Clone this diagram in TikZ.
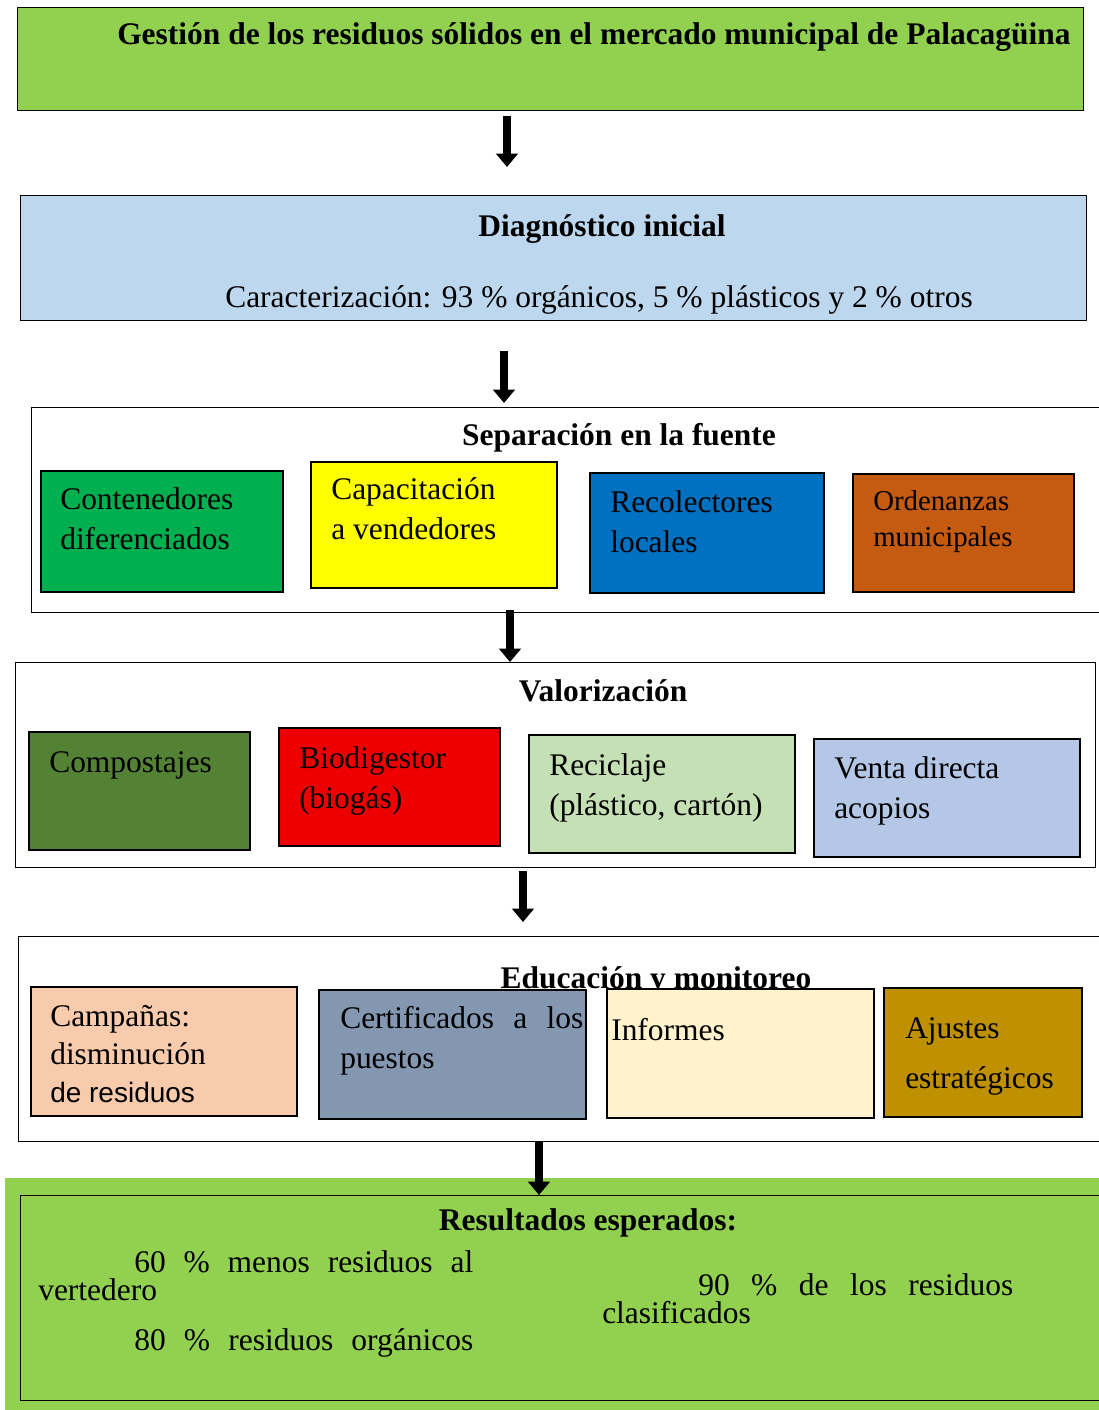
\documentclass[tikz,border=0pt]{standalone}
\usepackage{fontspec}
\setmainfont{Liberation Serif}
\newfontfamily\arialfont{Liberation Sans}
\usetikzlibrary{arrows.meta}

\definecolor{verdeT}{HTML}{92D050}
\definecolor{azulD}{HTML}{BDD7EE}
\definecolor{verdeC}{HTML}{00B050}
\definecolor{amarC}{HTML}{FFFF00}
\definecolor{azulR}{HTML}{0070C0}
\definecolor{naranO}{HTML}{C55A11}
\definecolor{verdeO}{HTML}{548235}
\definecolor{rojoB}{HTML}{EE0000}
\definecolor{verdeR}{HTML}{C5E0B4}
\definecolor{azulV}{HTML}{B4C7E7}
\definecolor{rosaC}{HTML}{F8CBAD}
\definecolor{grisC}{HTML}{8497B0}
\definecolor{cremaI}{HTML}{FFF2CC}
\definecolor{oroA}{HTML}{BF9000}

\tikzset{
  caja/.style={draw=black, line width=1.1pt, anchor=north west, inner sep=0pt},
  celda/.style={draw=black, line width=1.3pt, anchor=north west, inner sep=0pt},
  texto/.style={anchor=base west, inner sep=0pt, align=left, font=\fontsize{23.6}{30}\selectfont},
  titulo/.style={anchor=base, inner sep=0pt, font=\fontsize{23.6}{30}\selectfont\bfseries},
  flecha/.style={-{Triangle[width=16pt,length=10pt]}, line width=5.5pt}
}

\begin{document}
\begin{tikzpicture}[x=0.75pt, y=-0.75pt]
	\useasboundingbox (0,0) rectangle (1099,1410);

	\node[caja, fill=verdeT, minimum width=799.5pt, minimum height=77.25pt] (gestion) at (17,7) {};
	\node[titulo, anchor=base west] (gestionT) at (117,44) {Gestión de los residuos sólidos en el mercado municipal de Palacagüina};

	\node[caja, fill=azulD, minimum width=799.5pt, minimum height=93.75pt] (diag) at (20,195) {};
	\node[titulo] (diagT) at (602,236) {Diagnóstico inicial};
	\node[texto] (diagC) at (225,307) {Caracterización: 93 \% orgánicos, 5 \% plásticos y 2 \% otros};

	\node[caja, fill=white, minimum width=808.5pt, minimum height=153.75pt] (separ) at (31,407) {};
	\node[titulo] (separT) at (619,445) {Separación en la fuente};
	\node[celda, fill=verdeC, minimum width=181.5pt, minimum height=90.75pt] (conten) at (40,470) {};
	\node[texto] (contenT) at (60,549) {Contenedores\\diferenciados};
	\node[celda, fill=amarC, minimum width=184.5pt, minimum height=94.5pt] (capac) at (310,461) {};
	\node[texto] (capacT) at (331,539) {Capacitación\\a vendedores};
	\node[celda, fill=azulR, minimum width=175.5pt, minimum height=90pt] (recol) at (589,472) {};
	\node[texto] (recolT) at (610,552) {Recolectores\\locales};
	\node[celda, fill=naranO, minimum width=165.75pt, minimum height=88.5pt] (orden) at (852,473) {};
	\node[texto, font=\fontsize{21.6}{27}\selectfont] (ordenT) at (873,546) {Ordenanzas\\municipales};

	\node[caja, fill=white, minimum width=810pt, minimum height=153.75pt] (valor) at (15,662) {};
	\node[titulo] (valorT) at (603,701) {Valorización};
	\node[celda, fill=verdeO, minimum width=165.75pt, minimum height=88.5pt] (compost) at (28,731) {};
	\node[texto] (compostT) at (49,772) {Compostajes};
	\node[celda, fill=rojoB, minimum width=165.75pt, minimum height=88.5pt] (biodig) at (278,727) {};
	\node[texto] (biodigT) at (299,808) {Biodigestor\\(biogás)};
	\node[celda, fill=verdeR, minimum width=199.5pt, minimum height=88.5pt] (recic) at (528,734) {};
	\node[texto] (recicT) at (549,815) {Reciclaje\\(plástico, cartón)};
	\node[celda, fill=azulV, minimum width=199.5pt, minimum height=88.5pt] (venta) at (813,738) {};
	\node[texto] (ventaT) at (834,818) {Venta directa\\acopios};

	\node[caja, fill=white, minimum width=815.25pt, minimum height=153.75pt] (educ) at (18,936) {};
	\node[titulo] (educT) at (656,988) {Educación y monitoreo};
	\node[celda, fill=rosaC, minimum width=199.5pt, minimum height=96.75pt] (campa) at (30,986) {};
	\node[texto, font=\fontsize{23.6}{28.5}\selectfont] (campaT) at (50,1102) {Campañas:\\disminución\\{\arialfont\fontsize{21}{28}\selectfont de residuos}};
	\node[celda, fill=grisC, minimum width=200.25pt, minimum height=96.75pt] (certif) at (318,989) {};
	\node[texto] (certifT) at (340,1068) {\makebox[182.25pt][s]{Certificados a los}\\puestos};
	\node[celda, fill=cremaI, minimum width=200.25pt, minimum height=96.75pt] (inform) at (606,988) {};
	\node[texto] (informT) at (611,1040) {Informes};
	\node[celda, fill=oroA, minimum width=148.5pt, minimum height=96.75pt] (ajust) at (883,987) {};
	\node[texto, font=\fontsize{23.6}{37.5}\selectfont] (ajustT) at (905,1088) {Ajustes\\estratégicos};

	\node[anchor=north west, inner sep=0pt, fill=verdeT, minimum width=825pt, minimum height=174pt] (fondo) at (5,1178) {};
	\node[caja, minimum width=813.75pt, minimum height=153.75pt] (result) at (20,1195) {};
	\node[titulo] (resultT) at (588,1230) {Resultados esperados:};
	\node[texto] (res60) at (134,1272) {\makebox[254.25pt][s]{60 \% menos residuos al}};
	\node[texto] (res60b) at (38,1300) {vertedero};
	\node[texto] (res80) at (134,1350) {\makebox[254.25pt][s]{80 \% residuos orgánicos}};
	\node[texto] (res90) at (698,1295) {\makebox[236.25pt][s]{90 \% de los residuos}};
	\node[texto] (res90b) at (602,1323) {clasificados};

	\coordinate (f1) at (507,0);
	\coordinate (f2) at (504,0);
	\coordinate (f3) at (510,0);
	\coordinate (f4) at (523,0);
	\coordinate (f5) at (539,0);
	\draw[flecha, shorten <=3.75pt, shorten >=21pt] (gestion.south -| f1) -- (diag.north -| f1);
	\draw[flecha, shorten <=22.5pt, shorten >=3pt] (diag.south -| f2) -- (separ.north -| f2);
	\draw[flecha, shorten <=-2.25pt] (separ.south -| f3) -- (valor.north -| f3);
	\draw[flecha, shorten <=2.25pt, shorten >=10.5pt] (valor.south -| f4) -- (educ.north -| f4);
	\draw[flecha] (educ.south -| f5) -- (result.north -| f5);
\end{tikzpicture}
\end{document}
